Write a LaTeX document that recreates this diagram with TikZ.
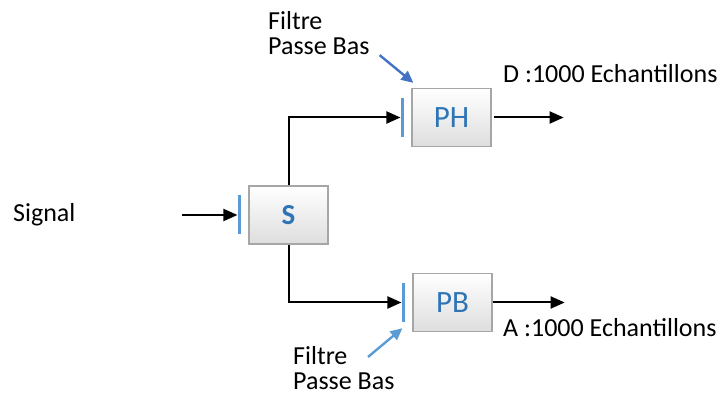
\documentclass[tikz,border=0pt]{standalone}
\usepackage{fontspec}
\setmainfont{Carlito}
\usetikzlibrary{arrows.meta,positioning}
\definecolor{BarBlue}{RGB}{91,155,213}
\definecolor{NoteBlue}{RGB}{68,114,196}
\definecolor{LabelBlue}{RGB}{46,117,182}
\definecolor{BoxEdge}{RGB}{166,166,166}

\tikzset{
  block/.style={draw=BoxEdge,line width=1.3pt,top color=white,bottom color=black!13,
    minimum width=79pt,minimum height=58pt,inner sep=0pt,text=LabelBlue,
    font=\fontsize{31}{31}\selectfont},
  bar/.style={fill=BarBlue,minimum width=3.5pt,minimum height=39pt,inner sep=0pt},
  conn/.style={line width=2pt,-{Triangle[length=14pt,width=12pt]}},
  note/.style={line width=2.4pt,-{Triangle[length=12pt,width=11pt]}},
  txt/.style={inner sep=0pt,font=\fontsize{26}{25.5}\selectfont,align=left}
}

\begin{document}
\begin{tikzpicture}[x=1pt,y=-1pt]
  \useasboundingbox (0,0) rectangle (724,398);
  % blocs
  \node[block,font=\bfseries\fontsize{29}{29}\selectfont] (S) at (288.5,215) {S};
  \node[block] (PH) at (451.5,117.5) {PH};
  \node[block] (PB) at (452.5,302.5) {PB};
  % entrees
  \node[bar,left=7pt of S] (barS) {};
  \node[bar,left=7pt of PH] (barPH) {};
  \node[bar,left=7pt of PB] (barPB) {};
  % textes
  \node[txt,anchor=base west] (signal) at (13,222) {Signal};
  \node[txt,anchor=base west] (outD) at (503,83) {D :1000 Echantillons};
  \node[txt,anchor=base west] (outA) at (503,337) {A :1000 Echantillons};
  \node[txt,anchor=north west] (noteH) at (268,11) {Filtre\\Passe Bas};
  \node[txt,anchor=north west] (noteB) at (293,346) {Filtre\\Passe Bas};
  % liaisons
  \coordinate[left=55pt of barS.west] (inS);
  \coordinate[right=72pt of PH.east] (endPH);
  \coordinate[right=72pt of PB.east] (endPB);
  \draw[conn] (inS) -- (barS.west);
  \draw[conn] (S.north) |- (barPH.west);
  \draw[conn] (S.south) |- (barPB.west);
  \draw[conn] ([xshift=2pt]PH.east) -- (endPH);
  \draw[conn] (PB.east) -- (endPB);
  \draw[note,NoteBlue] ([xshift=10pt]noteH.south east) -- ([xshift=2pt,yshift=5pt]PH.north west);
  \draw[note,BarBlue] ([xshift=75pt,yshift=-11pt]noteB.north west) -- ([xshift=-1pt,yshift=-6pt]barPB.south);
\end{tikzpicture}
\end{document}
